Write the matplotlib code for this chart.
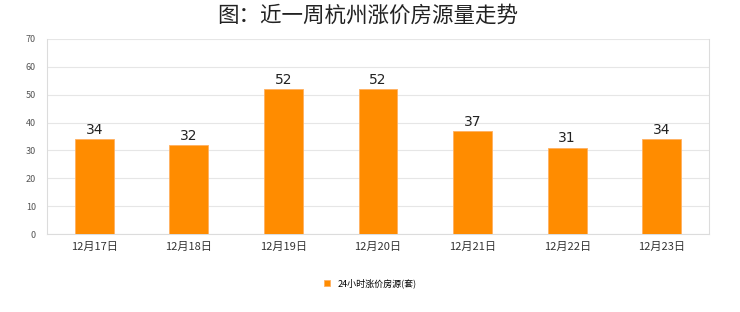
import matplotlib.pyplot as plt
import numpy as np

plt.rcParams['font.family'] = ['Noto Sans CJK SC', 'DejaVu Sans']

dates = ["12月17日", "12月18日", "12月19日", "12月20日", "12月21日", "12月22日", "12月23日"]
counts = [34, 32, 52, 52, 37, 31, 34]
series_name = "24小时涨价房源(套)"
title = "图：近一周杭州涨价房源量走势"

fig = plt.figure(figsize=(7.4, 3.12), dpi=100)
ax = fig.add_axes([47 / 740, 1 - 234 / 312, 662 / 740, 195 / 312])

x = np.arange(len(dates))
bars = ax.bar(x, counts, width=0.41, color="#ff8c00", edgecolor="#ffb060",
              linewidth=0.6, label=series_name, zorder=3)
for xi, v in zip(x, counts):
    ax.text(xi, v + 0.8, str(v), ha="center", va="bottom", fontsize=10,
            color="#222222", family="DejaVu Sans")

ax.set_xlim(-0.5, len(dates) - 0.5)
ax.set_ylim(0, 70)
ax.set_yticks(range(0, 71, 10))
ax.set_xticks(x)
ax.set_xticklabels(dates, fontsize=8, color="#333333")
ax.tick_params(axis="y", labelsize=6.5, colors="#555555", length=0, pad=8)
ax.tick_params(axis="x", length=0, pad=6)
ax.grid(axis="y", color="#e6e6e6", linewidth=0.8, zorder=0)
ax.spines["top"].set_visible(False)
for side in ["left", "bottom", "right"]:
    ax.spines[side].set_color("#dcdcdc")

fig.suptitle(title, x=0.497, y=0.985, fontsize=15.5, fontweight="medium", color="#222222")

fig.legend(handles=[bars], labels=[series_name], loc="center", bbox_to_anchor=(0.5, 1 - 283 / 312),
           frameon=False, fontsize=6.5, handlelength=0.7, handleheight=0.7, handletextpad=0.8)

fig.savefig("out.png", dpi=100, facecolor="white")
